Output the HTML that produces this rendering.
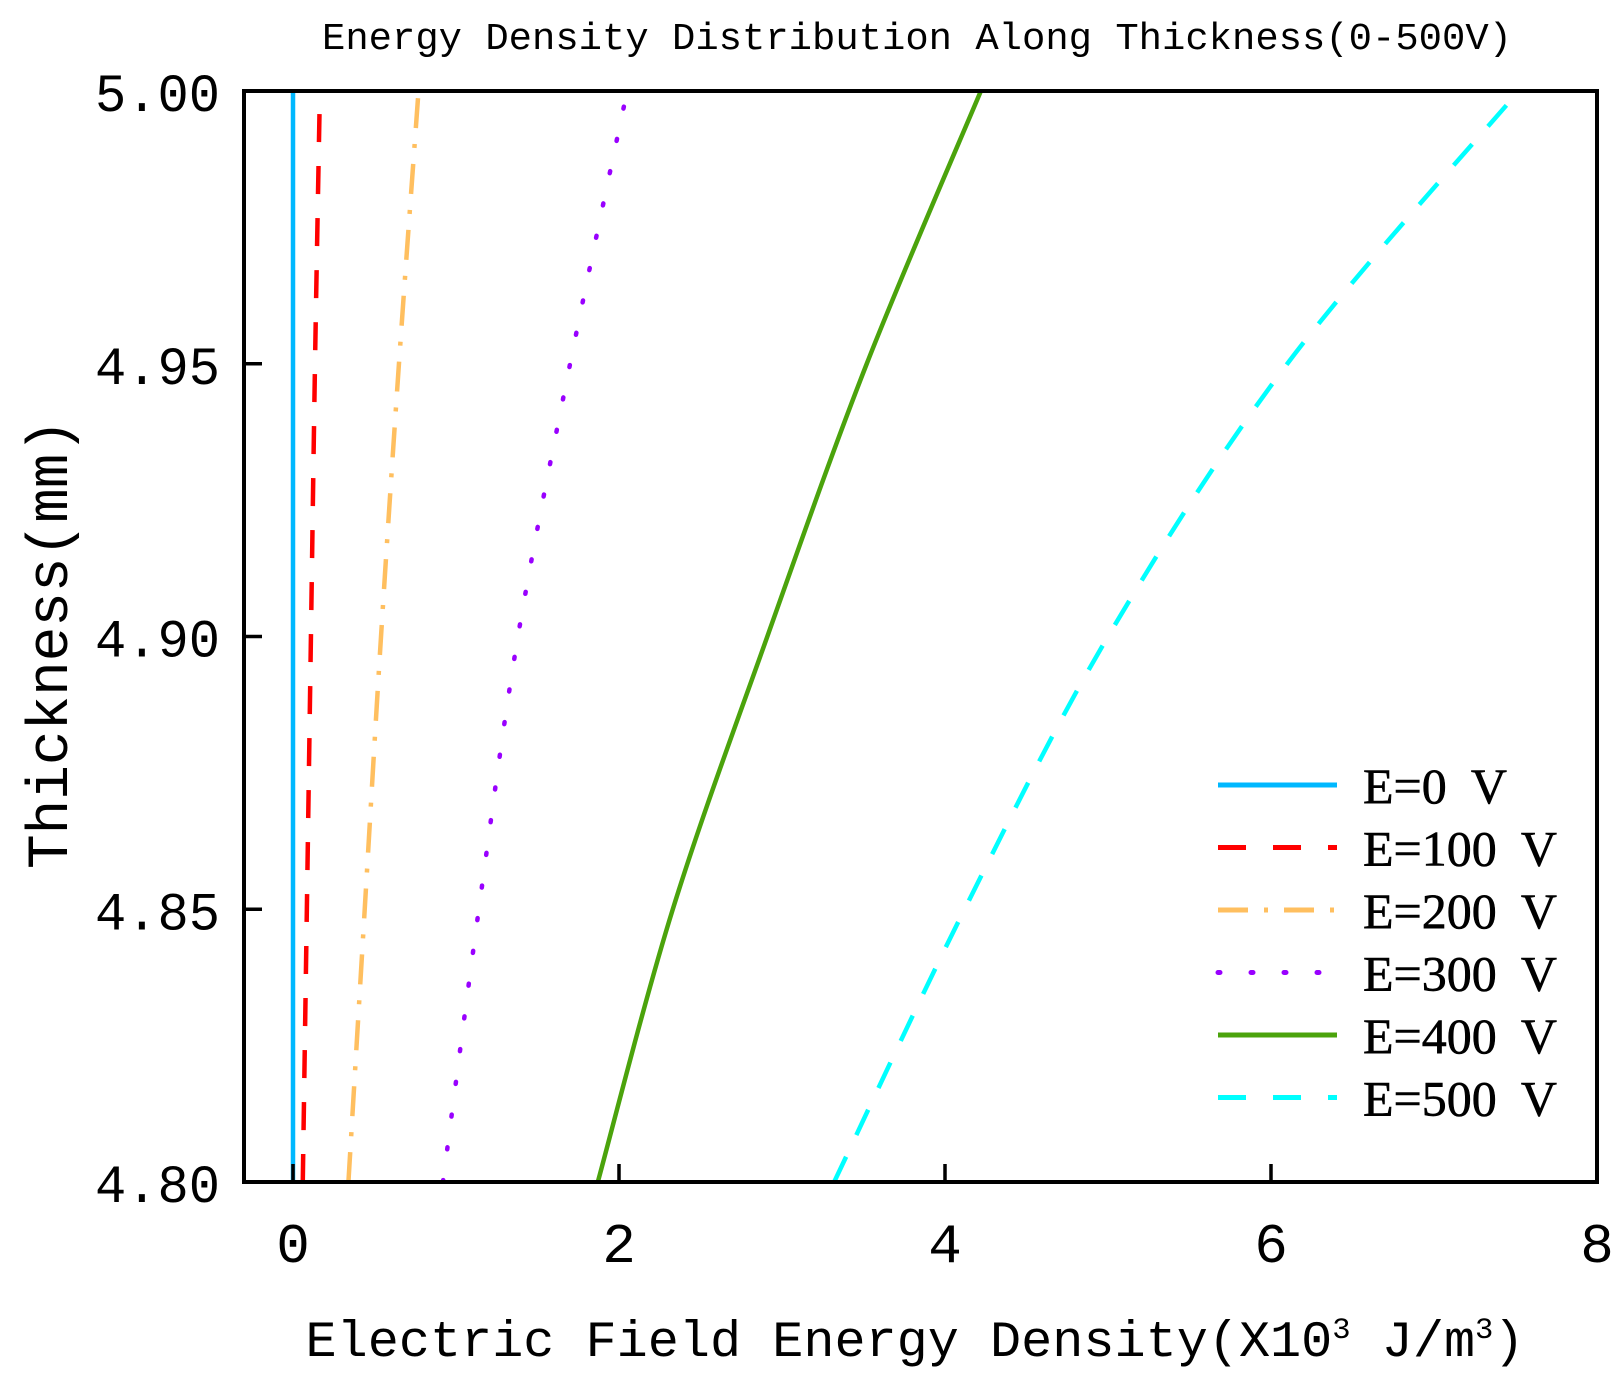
<!DOCTYPE html>
<html><head><meta charset="utf-8"><style>
html,body{margin:0;padding:0;background:#fff;}
svg{display:block;}
text{font-family:"Liberation Mono","Noto Sans CJK SC",monospace;fill:#000;}
</style></head><body>
<svg id="chart" width="1621" height="1384" viewBox="0 0 1621 1384" xmlns="http://www.w3.org/2000/svg">
<g id="plot"></g>
</svg>
<script>
const thickness = [4.80, 4.85, 4.90, 4.95, 5.00];
const seriesNames = ["E=0  V", "E=100  V", "E=200  V", "E=300  V", "E=400  V", "E=500  V"];
const e0 = [0, 0, 0, 0, 0];
const e100 = [0.06, 0.085, 0.11, 0.135, 0.165];
const e200 = [0.34, 0.44, 0.54, 0.65, 0.77];
const e300 = [0.92, 1.14, 1.38, 1.70, 2.05];
const e400 = [1.87, 2.33, 2.91, 3.52, 4.22];
const e500 = [3.32, 4.12, 5.0, 6.1, 7.52];
const xTicks = [0, 2, 4, 6, 8];
const yTicks = [4.80, 4.85, 4.90, 4.95, 5.00];
const yTickLabels = ["4.80", "4.85", "4.90", "4.95", "5.00"];

const NS = "http://www.w3.org/2000/svg";
const L = 244, R = 1597, T = 91, B = 1182;
const x0px = 293, perUnit = 163;
function xs(v){ return x0px + v * perUnit; }
function ys(v){ return B - (v - 4.80) / 0.20 * (B - T); }
const svg = document.getElementById('chart');
const plot = document.getElementById('plot');
function el(tag, attrs, parent){
  const e = document.createElementNS(NS, tag);
  for (const k in attrs) e.setAttribute(k, attrs[k]);
  (parent || svg).appendChild(e);
  return e;
}
const styles = [
  {c:"#00b8ff", d:"none"},
  {c:"#ff0000", d:"28 24"},
  {c:"#ffbf5f", d:"30 16 4 16"},
  {c:"#9900ff", d:"2 31"},
  {c:"#4ba30c", d:"none"},
  {c:"#00ffff", d:"28 24"}
];
const allSeries = [e0, e100, e200, e300, e400, e500];
function pathFor(vals){
  const pts = vals.map((v,i)=>[xs(v), ys(thickness[i])]);
  let d = "M" + pts[0][0] + "," + pts[0][1];
  for (let i=0;i<pts.length-1;i++){
    const p0 = pts[Math.max(0,i-1)], p1 = pts[i], p2 = pts[i+1], p3 = pts[Math.min(pts.length-1,i+2)];
    const c1x = p1[0] + (p2[0]-p0[0])/6, c1y = p1[1] + (p2[1]-p0[1])/6;
    const c2x = p2[0] - (p3[0]-p1[0])/6, c2y = p2[1] - (p3[1]-p1[1])/6;
    d += " C" + c1x + "," + c1y + " " + c2x + "," + c2y + " " + p2[0] + "," + p2[1];
  }
  return d;
}
const defs = el('defs', {});
const cp = el('clipPath', {id:'clip'}, defs);
el('rect', {x:L, y:T, width:R-L, height:B-T}, cp);
const sg = el('g', {'clip-path':'url(#clip)'}, plot);
allSeries.forEach((vals, i) => {
  const p = el('path', {d: pathFor(vals), fill:'none', stroke: styles[i].c, 'stroke-width': 4.5,
    'stroke-dasharray': styles[i].d, 'stroke-linecap': i===3 ? 'round' : 'butt'}, sg);
  
  
});
xTicks.forEach(v => {
  if (v < 8) {
    const t = el('line', {x1: xs(v), x2: xs(v), y1: B, y2: B-18, stroke:'#000', 'stroke-width':3.5});
    
    
  }
  const lb = el('text', {x: xs(v), y: 1262, 'font-size': 56, 'text-anchor':'middle'});
  lb.textContent = String(v);
  
  
});
yTicks.forEach((v, i) => {
  if (i > 0 && i < yTicks.length-1) {
    const t = el('line', {x1: L, x2: L+18, y1: ys(v), y2: ys(v), stroke:'#000', 'stroke-width':3.5});
    
    
  }
  const lb = el('text', {x: 220, y: ys(v) + 20, 'font-size': 54, 'text-anchor':'end', 'textLength': 125, 'lengthAdjust':'spacingAndGlyphs'});
  lb.textContent = yTickLabels[i];
  
  
});
el('rect', {x:L, y:T, width:R-L, height:B-T, fill:'none', stroke:'#000', 'stroke-width':4,  });
const lg = el('g', { });
seriesNames.forEach((n, i) => {
  const y = 785 + i * 62.5;
  const ln = el('line', {x1:1218, x2:1337, y1:y, y2:y, stroke:styles[i].c, 'stroke-width':5,
    'stroke-dasharray': i===3 ? '2 31' : (i===1||i===5 ? '28 27' : styles[i].d), 'stroke-linecap': i===3?'round':'butt'}, lg);
  
  
  const t = el('text', {x:1363, y:y+18, 'font-size':50}, lg);
  t.setAttribute('style', 'font-family:"Liberation Serif",serif;white-space:pre;stroke:#000;stroke-width:0.6');
  t.textContent = n;
  
  
});
</script>
<svg style="position:absolute;left:0;top:0" width="1621" height="1384" xmlns="http://www.w3.org/2000/svg">
<text x="917" y="49" font-size="38" text-anchor="middle" textLength="1190" lengthAdjust="spacingAndGlyphs">Energy Density Distribution Along Thickness(0-500V)</text>
<text x="915" y="1356" font-size="51" text-anchor="middle" textLength="1219" lengthAdjust="spacingAndGlyphs">Electric Field Energy Density(X10<tspan dy="-18" font-size="30">3</tspan><tspan dy="18"> J/m</tspan><tspan dy="-18" font-size="30">3</tspan><tspan dy="18">)</tspan></text>
<text transform="translate(67,644) rotate(-90)" font-size="58" text-anchor="middle" textLength="450" lengthAdjust="spacingAndGlyphs">Thickness(mm)</text>
</svg>
</body></html>
